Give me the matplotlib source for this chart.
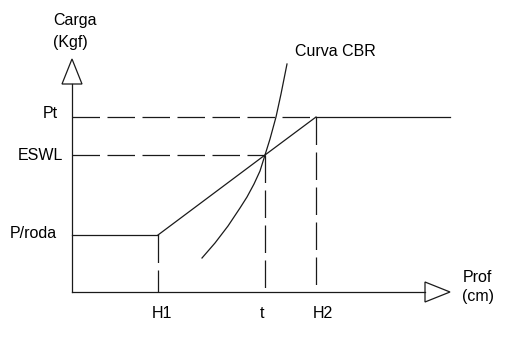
import matplotlib
matplotlib.use("Agg")
import matplotlib.pyplot as plt
from matplotlib.patches import Polygon

plt.rcParams['font.family'] = ['Liberation Sans', 'DejaVu Sans']

# schematic values (depth units on x, load units on y)
depth_ticks = ["H1", "t", "H2"]
depth_vals = [86, 193, 244]
load_ticks = ["P/roda", "ESWL", "Pt"]
load_vals = [57, 137, 175]
x_axis_end = 378
y_axis_end = 233
cbr_x = [130, 143, 156, 168, 175, 182, 188, 193, 198, 204, 209, 215]
cbr_y = [34, 49, 66, 84, 95, 108, 121, 137, 153, 175, 198, 228]

H1, t, H2 = depth_vals
P, E, Pt = load_vals
col = '#1a1a1a'
lw = 0.9
dash = (22, 6)
fs = 11.5

fig = plt.figure(figsize=(5.12, 3.49), dpi=100)
ax = fig.add_axes([0, 0, 1, 1])
ax.set_xlim(-72, 440)
ax.set_ylim(-57, 292)
ax.axis('off')

# axes with open arrow heads
ah = 25
aw = 10
ax.plot([0, 0], [0, y_axis_end - ah], color=col, lw=lw)
ax.plot([0, x_axis_end - ah], [0, 0], color=col, lw=lw)
ax.add_patch(Polygon([[-aw, y_axis_end - ah], [aw, y_axis_end - ah], [0, y_axis_end]],
                     closed=True, fill=False, edgecolor=col, lw=lw))
ax.add_patch(Polygon([[x_axis_end - ah, -aw], [x_axis_end - ah, aw], [x_axis_end, 0]],
                     closed=True, fill=False, edgecolor=col, lw=lw))

# horizontal reference lines
ax.plot([0, H1], [P, P], color=col, lw=lw)
ax.plot([0, t], [E, E], color=col, lw=lw, dashes=dash)
ax.plot([0, H2], [Pt, Pt], color=col, lw=lw, dashes=dash)
ax.plot([H2, x_axis_end], [Pt, Pt], color=col, lw=lw)

# vertical dashed lines
ax.plot([H1, H1], [P, 0], color=col, lw=lw, dashes=dash)
ax.plot([t, t], [E, 0], color=col, lw=lw, dashes=dash)
ax.plot([H2, H2], [Pt, 0], color=col, lw=lw, dashes=dash)

# load-depth line
ax.plot([H1, t, H2], [P, E, Pt], color=col, lw=lw)

# CBR curve
ax.plot(cbr_x, cbr_y, color=col, lw=lw)

# labels
ax.text(-14, Pt + 3, "Pt", ha='right', va='center', fontsize=fs)
ax.text(-9, E, "ESWL", ha='right', va='center', fontsize=fs)
ax.text(-15, P + 2, "P/roda", ha='right', va='center', fontsize=fs)
ax.text(H1 + 4, -21, "H1", ha='center', va='center', fontsize=fs)
ax.text(t - 3, -21, "t", ha='center', va='center', fontsize=fs)
ax.text(H2 + 7, -21, "H2", ha='center', va='center', fontsize=fs)
ax.text(3, 271, "Carga", ha='center', va='center', fontsize=fs)
ax.text(-2, 250, "(Kgf)", ha='center', va='center', fontsize=fs)
ax.text(405, 14, "Prof", ha='center', va='center', fontsize=fs)
ax.text(406, -5, "(cm)", ha='center', va='center', fontsize=fs)
ax.text(223, 241, "Curva CBR", ha='left', va='center', fontsize=fs)

fig.savefig("out.png", dpi=100)
